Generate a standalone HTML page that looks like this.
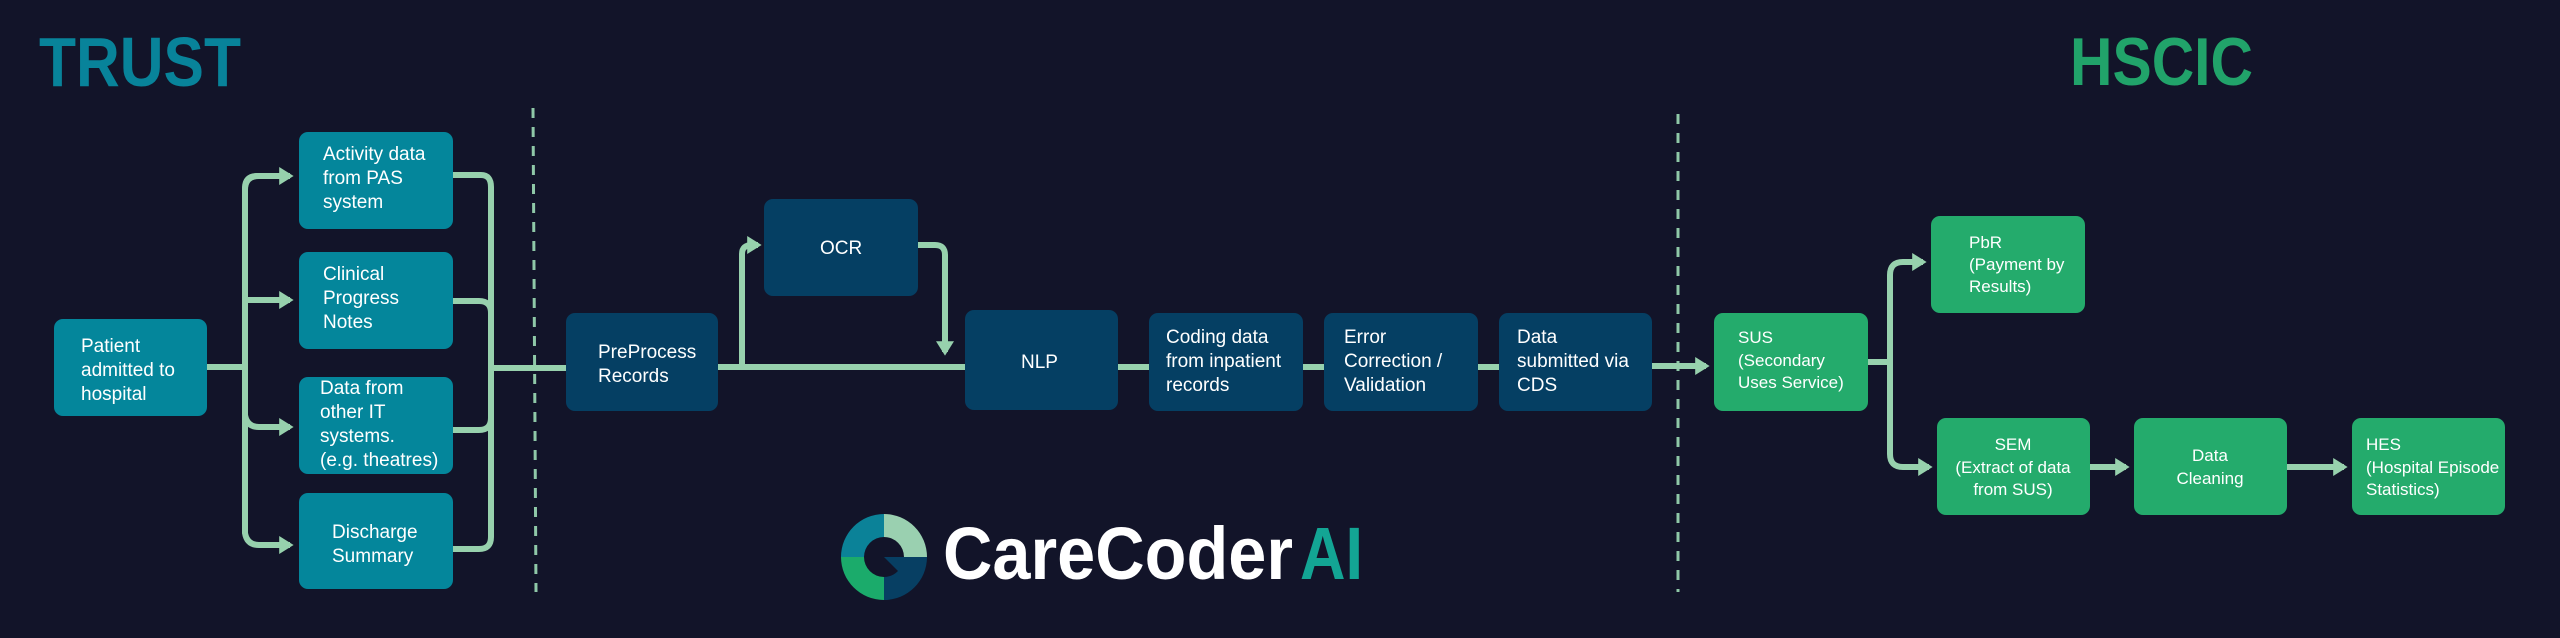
<!DOCTYPE html>
<html><head><meta charset="utf-8"><style>
html,body{margin:0;padding:0;background:#121429;}
svg{display:block}
text{font-family:"Liberation Sans",sans-serif;fill:#fff;}
.t{font-size:19px;}
</style></head><body>
<svg width="2560" height="638" viewBox="0 0 2560 638" xmlns="http://www.w3.org/2000/svg">
<rect width="2560" height="638" fill="#121429"/>
<defs>
<marker id="a" markerWidth="3" markerHeight="3" refX="1.8" refY="1.5" orient="auto" markerUnits="strokeWidth"><path d="M0,0 L2.4,1.5 L0,3z" fill="#97d1ad"/></marker>
</defs>
<text x="39" y="86" font-size="70" font-weight="bold" style="fill:#08839a" textLength="202" lengthAdjust="spacingAndGlyphs">TRUST</text>
<text x="2070" y="85" font-size="68" font-weight="bold" style="fill:#21a36a" textLength="183" lengthAdjust="spacingAndGlyphs">HSCIC</text>
<line x1="533" y1="108" x2="536" y2="592" stroke="#8fc8a8" stroke-width="3" stroke-dasharray="10,9"/>
<line x1="1678" y1="114" x2="1678" y2="592" stroke="#8fc8a8" stroke-width="3" stroke-dasharray="10,9"/>
<g fill="none" stroke="#97d1ad" stroke-width="6" stroke-linejoin="round">
<path d="M207 367 H245"/>
<path d="M290 176 H257 Q245 176 245 188 V533 Q247 545 259 545 H290" marker-end="url(#a)"/>
<path d="M245 300 Q247 300 259 300 H290" marker-end="url(#a)"/>
<path d="M245 415 Q247 427 259 427 H290" marker-end="url(#a)"/>
<path d="M245 190 Q245 176 259 176 H290" marker-end="url(#a)"/>
<path d="M453 175 H481 Q491 175 491 187 V537 Q491 549 479 549 H453"/>
<path d="M453 301 H479 Q491 301 491 313"/>
<path d="M453 430 H479 Q491 430 491 418"/>
<path d="M491 368 H566"/>
<path d="M718 367 H965"/>
<path d="M742 367 V254 Q742 245 752 245 H758" marker-end="url(#a)"/>
<path d="M918 245 H935 Q945 245 945 255 V352" marker-end="url(#a)"/>
<path d="M1118 367 H1149"/>
<path d="M1303 367 H1324"/>
<path d="M1478 367 H1499"/>
<path d="M1652 366 H1706" marker-end="url(#a)"/>
<path d="M1868 362 H1890"/>
<path d="M1890 362 V275 Q1890 262 1903 262 H1923" marker-end="url(#a)"/>
<path d="M1890 362 V454 Q1890 467 1903 467 H1929" marker-end="url(#a)"/>
<path d="M2090 467 H2126" marker-end="url(#a)"/>
<path d="M2287 467 H2344" marker-end="url(#a)"/>
</g>
<g fill="#04869b">
<rect x="54" y="319" width="153" height="97" rx="9"/>
<rect x="299" y="132" width="154" height="97" rx="9"/>
<rect x="299" y="252" width="154" height="97" rx="9"/>
<rect x="299" y="377" width="154" height="97" rx="9"/>
<rect x="299" y="493" width="154" height="96" rx="9"/>
</g>
<g fill="#053f63">
<rect x="566" y="313" width="152" height="98" rx="9"/>
<rect x="764" y="199" width="154" height="97" rx="9"/>
<rect x="965" y="310" width="153" height="100" rx="9"/>
<rect x="1149" y="313" width="154" height="98" rx="9"/>
<rect x="1324" y="313" width="154" height="98" rx="9"/>
<rect x="1499" y="313" width="153" height="98" rx="9"/>
</g>
<g fill="#24ab6c">
<rect x="1714" y="313" width="154" height="98" rx="9"/>
<rect x="1931" y="216" width="154" height="97" rx="9"/>
<rect x="1937" y="418" width="153" height="97" rx="9"/>
<rect x="2134" y="418" width="153" height="97" rx="9"/>
<rect x="2352" y="418" width="153" height="97" rx="9"/>
</g>
<g class="t">
<text x="81" y="352">Patient</text><text x="81" y="376">admitted to</text><text x="81" y="400">hospital</text>
<text x="323" y="160">Activity data</text><text x="323" y="184">from PAS</text><text x="323" y="208">system</text>
<text x="323" y="280">Clinical</text><text x="323" y="304">Progress</text><text x="323" y="328">Notes</text>
<text x="320" y="394">Data from</text><text x="320" y="418">other IT</text><text x="320" y="442">systems.</text><text x="320" y="466">(e.g. theatres)</text>
<text x="332" y="538">Discharge</text><text x="332" y="562">Summary</text>
<text x="598" y="358">PreProcess</text><text x="598" y="382">Records</text>
<text x="820" y="254">OCR</text>
<text x="1021" y="368">NLP</text>
<text x="1166" y="343">Coding data</text><text x="1166" y="367">from inpatient</text><text x="1166" y="391">records</text>
<text x="1344" y="343">Error</text><text x="1344" y="367">Correction /</text><text x="1344" y="391">Validation</text>
<text x="1517" y="343">Data</text><text x="1517" y="367">submitted via</text><text x="1517" y="391">CDS</text>
</g>
<g font-size="17">
<text x="1738" y="343">SUS</text><text x="1738" y="366">(Secondary</text><text x="1738" y="388">Uses Service)</text>
<text x="1969" y="248">PbR</text><text x="1969" y="270">(Payment by</text><text x="1969" y="292">Results)</text>
<text x="2013" y="450" text-anchor="middle">SEM</text><text x="2013" y="473" text-anchor="middle">(Extract of data</text><text x="2013" y="495" text-anchor="middle">from SUS)</text>
<text x="2210" y="461" text-anchor="middle">Data</text><text x="2210" y="484" text-anchor="middle">Cleaning</text>
<text x="2366" y="450">HES</text><text x="2366" y="473">(Hospital Episode</text><text x="2366" y="495">Statistics)</text>
</g>
<g transform="translate(884,557)">
<path d="M0,-43 A43,43 0 0 0 -43,0 L-20,0 A20,20 0 0 1 0,-20z" fill="#0b8298"/>
<path d="M0,-43 A43,43 0 0 1 43,0 L20,0 A20,20 0 0 0 0,-20z" fill="#9ad0b0"/>
<path d="M-43,0 A43,43 0 0 0 0,43 L0,20 A20,20 0 0 1 -20,0z" fill="#1bab6b"/>
<path d="M43,0 A43,43 0 0 1 0,43 L0,20 A20,20 0 0 0 14,14 L0,0z" fill="#073f63"/>
</g>
<text x="943" y="579" font-size="74" font-weight="bold" textLength="350" lengthAdjust="spacingAndGlyphs">CareCoder</text>
<text x="1300" y="579" font-size="74" font-weight="bold" style="fill:#13a594" textLength="63" lengthAdjust="spacingAndGlyphs">AI</text>
</svg>
</body></html>
